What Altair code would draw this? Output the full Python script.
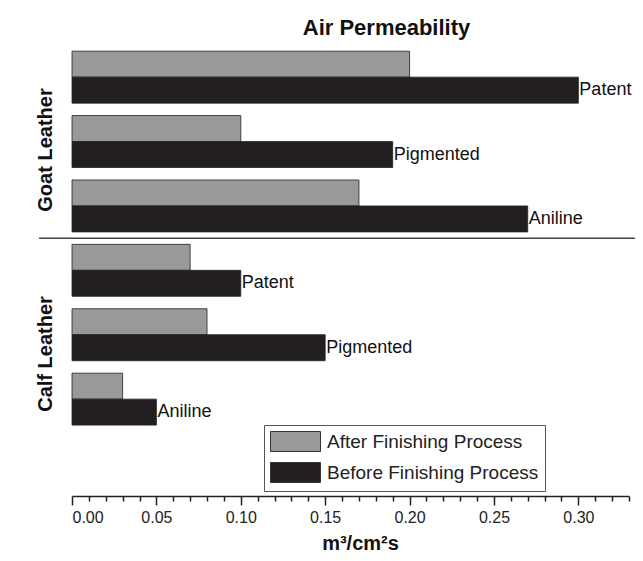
import altair as alt
import pandas as pd

FONT = "Liberation Sans"

# ---- data ----
leathers = ["Goat Leather", "Goat Leather", "Goat Leather",
            "Calf Leather", "Calf Leather", "Calf Leather"]
finishes = ["Patent", "Pigmented", "Aniline", "Patent", "Pigmented", "Aniline"]
after_vals = [0.20, 0.10, 0.17, 0.07, 0.08, 0.03]
before_vals = [0.30, 0.19, 0.27, 0.10, 0.15, 0.05]
series_names = ["After Finishing Process", "Before Finishing Process"]
group_names = ["Goat Leather", "Calf Leather"]
x_ticks = [0.00, 0.01, 0.02, 0.03, 0.04, 0.05, 0.06, 0.07, 0.08, 0.09,
           0.10, 0.11, 0.12, 0.13, 0.14, 0.15, 0.16, 0.17, 0.18, 0.19,
           0.20, 0.21, 0.22, 0.23, 0.24, 0.25, 0.26, 0.27, 0.28, 0.29,
           0.30, 0.31, 0.32, 0.33]

rows = [f"{l} | {f}" for l, f in zip(leathers, finishes)]
records = []
for r, l, f, a, b in zip(rows, leathers, finishes, after_vals, before_vals):
    records.append({"row": r, "group": l, "finish": f, "series": series_names[0], "value": a})
    records.append({"row": r, "group": l, "finish": f, "series": series_names[1], "value": b})
df = pd.DataFrame(records)
df_groups = pd.DataFrame({"group": group_names})

y_scale = alt.Scale(domain=rows, paddingInner=0.193, paddingOuter=0.637, align=0.136)
y_enc = alt.Y("row:N", sort=rows, axis=None, scale=y_scale)
yoff_enc = alt.YOffset("series:N", sort=series_names,
                       scale=alt.Scale(domain=series_names, paddingInner=0, paddingOuter=0))

x_axis = alt.Axis(
    values=x_ticks,
    labelExpr="round(datum.value*100) % 5 == 0 ? format(datum.value, '.2f') : ''",
    labelOverlap=False,
    tickSize={"condition": {"test": "round(datum.value*100) % 5 == 0", "value": 9}, "value": 5},
    tickWidth=1.5, tickColor="#222",
    domainColor="#222", domainWidth=1.5,
    grid=False,
    labelFont=FONT, labelFontSize=16, labelColor="#222", labelPadding=4,
    title="m³/cm²s", titleFont=FONT, titleFontSize=20, titleFontWeight="bold",
    titleColor="#111", titleX=288, titleY=47, titleBaseline="middle", titleAlign="center",
)
x_scale = alt.Scale(domain=[0, 0.33], nice=False, zero=True)
x_enc = alt.X("value:Q", scale=x_scale, axis=x_axis)

color_enc = alt.Color(
    "series:N",
    scale=alt.Scale(domain=series_names, range=["#999999", "#231f20"]),
    legend=alt.Legend(
        title=None, orient="none", legendX=192, legendY=385, direction="vertical",
        symbolType="M-1,-1H4V1H-1Z", symbolSize=400,
        symbolStrokeColor="#333", symbolStrokeWidth=1, symbolOpacity=1,
        labelFont=FONT, labelFontSize=19, labelColor="#222", labelOffset=36, labelLimit=400,
        rowPadding=6, padding=6, strokeColor="#555", fillColor="white",
    ),
)

bars = alt.Chart(df).mark_bar(stroke="#222", strokeWidth=0.8).encode(
    x=x_enc, y=y_enc, yOffset=yoff_enc, color=color_enc
)

labels = alt.Chart(df).transform_filter(
    alt.datum.series == series_names[1]
).mark_text(align="left", baseline="middle", dx=1, fontSize=18, font=FONT, color="#111").encode(
    x=x_enc, y=y_enc, yOffset=yoff_enc, text="finish:N"
)

divider = alt.Chart(df).transform_filter(
    (alt.datum.group == group_names[1]) & (alt.datum.finish == "Patent") & (alt.datum.series == series_names[0])
).mark_rule(color="#444", strokeWidth=1.5, yOffset=-6).encode(
    y=alt.Y("row:N", sort=rows, axis=None, scale=y_scale, bandPosition=0),
    x=alt.value(-33), x2=alt.value(575),
)

inner = alt.layer(bars, labels, divider)

group_labels = alt.Chart(df_groups).mark_text(
    angle=270, fontWeight="bold", fontSize=20, font=FONT, baseline="middle", align="center", color="#111"
).encode(
    text="group:N",
    x=alt.value(-26),
    y=alt.Y("group:N", sort=group_names, axis=None,
            scale=alt.Scale(type="point", domain=group_names, padding=0.618, align=0.4365)),
)

chart = alt.layer(inner, group_labels).resolve_scale(y="independent").properties(
    width=557, height=456,
    autosize=alt.AutoSizeParams(type="none"),
    padding={"left": 64, "top": 32, "right": 6, "bottom": 57},
    background="white",
    title=alt.Title("Air Permeability", font=FONT, fontSize=22, fontWeight="bold",
                    color="#111", anchor="middle", dx=36, offset=0),
).configure_view(stroke=None)

chart.save("out.html", embed_options={"renderer": "svg", "actions": False})
